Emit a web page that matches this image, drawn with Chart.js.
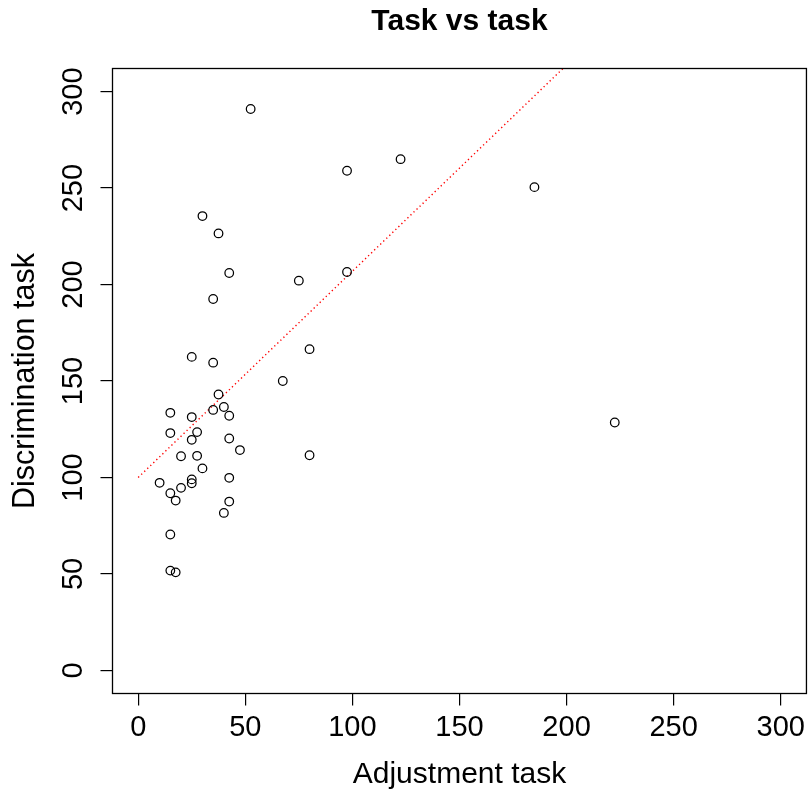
<!DOCTYPE html>
<html>
<head>
<meta charset="utf-8">
<title>Task vs task</title>
<script src="https://cdn.jsdelivr.net/npm/chart.js@4"></script>
<style>
  html, body { margin: 0; padding: 0; background: #fff; }
  canvas { display: block; }
</style>
</head>
<body>
<canvas id="taskChart" width="812" height="792"></canvas>
<script>
// adjustment vs discrimination scores, one point per subject
const adjustment = [
    52.5, 97.5, 122.5, 185, 30, 37.5, 42.5, 75, 97.5, 35,
    80, 25, 35, 67.5, 37.5, 40, 35, 15, 25, 42.5,
    15, 27.5, 25, 42.5, 47.5, 80, 20, 27.5, 30, 25,
    25, 42.5, 10, 20, 15, 17.5, 42.5, 40, 15, 15,
    17.5, 222.5
];
const discrimination = [
    291, 259, 265, 250.5, 235.5, 226.5, 206, 202, 206.5, 192.5,
    166.5, 162.5, 159.5, 150, 143, 136.5, 135, 133.5, 131.3, 132,
    123, 123.5, 119.5, 120.2, 114.2, 111.5, 111, 111.2, 104.7, 99,
    97, 99.8, 97.2, 94.6, 91.8, 88, 87.5, 81.6, 70.4, 51.7,
    50.8, 128.5
];

// dotted reference line (end points)
const fitX = [0, 300];
const fitY = [100, 420.7];

// axis ticks
const xTicks = [0, 50, 100, 150, 200, 250, 300];
const yTicks = [0, 50, 100, 150, 200, 250, 300];

const FONT = "'Liberation Sans', Arial, Helvetica, sans-serif";
Chart.defaults.color = '#000';
Chart.defaults.font.family = FONT;

const points = adjustment.map((x, i) => ({ x: x, y: discrimination[i] }));
const fitLine = fitX.map((x, i) => ({ x: x, y: fitY[i] }));

// box around the plotting region
const frame = {
    id: 'frame',
    afterDatasetsDraw(chart) {
        const a = chart.chartArea;
        const ctx = chart.ctx;
        ctx.save();
        ctx.strokeStyle = '#000';
        ctx.lineWidth = 1.3;
        ctx.strokeRect(a.left, a.top, a.right - a.left, a.bottom - a.top);
        ctx.restore();
    }
};

function fixedTicks(values) {
    return function(scale) {
        scale.ticks = values.map(v => ({ value: v }));
    };
}

const tickGrid = {
    drawOnChartArea: false,
    drawTicks: true,
    tickLength: 12,
    color: '#000',
    lineWidth: 1.2
};

new Chart(document.getElementById('taskChart'), {
    type: 'scatter',
    data: {
        datasets: [{
            data: points,
            showLine: false,
            pointStyle: 'circle',
            pointRadius: 4.3,
            pointHoverRadius: 4.3,
            pointBorderWidth: 1.25,
            pointBackgroundColor: 'rgba(0,0,0,0)',
            pointBorderColor: '#000'
        }, {
            data: fitLine,
            showLine: true,
            pointRadius: 0,
            borderColor: '#ff0000',
            borderWidth: 1.4,
            borderDash: [1.3, 2.9],
            fill: false
        }]
    },
    options: {
        responsive: false,
        devicePixelRatio: 1,
        animation: false,
        events: [],
        layout: { padding: { left: 0, right: 2.5, top: 0, bottom: 0 } },
        plugins: {
            legend: { display: false },
            tooltip: { enabled: false },
            title: {
                display: true,
                fullSize: false,
                text: 'Task vs task',
                color: '#000',
                font: { size: 30, weight: 'bold', lineHeight: 1.2 },
                padding: { top: 3.5, bottom: 29 }
            }
        },
        scales: {
            x: {
                type: 'linear',
                min: -12,
                max: 312,
                afterBuildTicks: fixedTicks(xTicks),
                afterFit(scale) {
                    scale.height = 98.5;
                    scale.paddingLeft = 0;
                    scale.paddingRight = 0;
                },
                border: { display: false },
                grid: tickGrid,
                ticks: {
                    color: '#000',
                    font: { size: 29 },
                    padding: 5,
                    maxRotation: 0,
                    autoSkip: false
                },
                title: {
                    display: true,
                    text: 'Adjustment task',
                    color: '#000',
                    font: { size: 30, lineHeight: 1 },
                    padding: { top: 0, bottom: 2 }
                }
            },
            y: {
                type: 'linear',
                min: -12,
                max: 312,
                afterBuildTicks: fixedTicks(yTicks),
                afterFit(scale) {
                    scale.width = 112.5;
                    scale.paddingTop = 0;
                    scale.paddingBottom = 0;
                },
                border: { display: false },
                grid: tickGrid,
                ticks: {
                    color: '#000',
                    font: { size: 29 },
                    padding: 2,
                    minRotation: 90,
                    maxRotation: 90,
                    crossAlign: 'center',
                    autoSkip: false
                },
                title: {
                    display: true,
                    text: 'Discrimination task',
                    color: '#000',
                    font: { size: 30.5, lineHeight: 1 },
                    padding: { top: 10, bottom: 0 }
                }
            }
        }
    },
    plugins: [frame]
});
</script>
</body>
</html>
